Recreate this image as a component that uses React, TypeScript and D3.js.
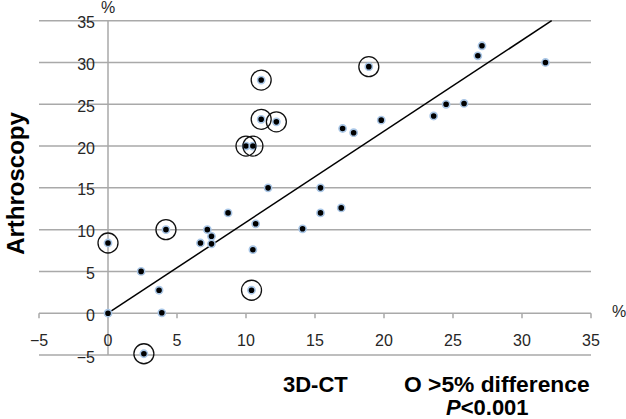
import React from "react";
import * as d3 from "d3";

// 3D-CT measurement (%) for each shoulder
const ctValues = [
  0, 0, 2.4, 3.7, 3.9, 2.6, 4.2, 6.7, 7.2, 7.5, 7.5, 8.7, 10.7, 10.5, 10.4, 11.6,
  10.0, 10.5, 11.1, 12.2, 11.1, 14.1, 15.4, 15.4, 16.9, 17.0, 17.8, 18.9, 19.8,
  23.6, 24.5, 25.8, 26.8, 27.1, 31.7,
];
// Arthroscopy measurement (%)
const arthroValues = [
  0, 8.4, 5.0, 2.75, 0.05, -4.85, 10.0, 8.4, 10.0, 9.2, 8.3, 12.0, 10.7, 7.6, 2.75, 15.0,
  20.0, 20.0, 23.2, 22.9, 27.9, 10.1, 12.0, 15.0, 12.6, 22.1, 21.6, 29.5, 23.1,
  23.6, 25.0, 25.1, 30.8, 32.0, 30.0,
];
// > 5% difference between methods (circled)
const over5 = [
  false, true, false, false, false, true, true, false, false, false, false, false, false, false, true, false,
  true, true, true, true, true, false, false, false, false, false, false, true, false,
  false, false, false, false, false, false,
];
const tickValues = [-5, 0, 5, 10, 15, 20, 25, 30, 35];
const tickLabels = ["\u22125", "0", "5", "10", "15", "20", "25", "30", "35"];
const fitX = [0, 32.15];
const fitY = [0, 35];

const FONT = "'Liberation Sans', Arial, Helvetica, sans-serif";

export default function App() {
  const x = d3.scaleLinear().domain([-5, 35]).range([39, 591]);
  const y = d3.scaleLinear().domain([-5, 35]).range([355, 20.7]);
  const line = d3
    .line<number>()
    .x((_, i) => x(fitX[i]))
    .y((_, i) => y(fitY[i]));
  const gridColor = "#a9a9a9";
  const textColor = "#262626";

  return (
    <svg
      width={626}
      height={419}
      viewBox="0 0 626 419"
      style={{ position: "absolute", left: 0, top: 0, background: "#fff" }}
      fontFamily={FONT}
    >
      <rect x={0} y={0} width={626} height={419} fill="#fff" />
      {/* horizontal gridlines */}
      {tickValues.map((t) => (
        <line
          key={"g" + t}
          x1={x(-5)}
          x2={x(35)}
          y1={y(t)}
          y2={y(t)}
          stroke={gridColor}
          strokeWidth={1.5}
        />
      ))}
      {/* y axis */}
      <line x1={x(0)} x2={x(0)} y1={y(35)} y2={y(-5)} stroke={gridColor} strokeWidth={1.5} />
      {/* x ticks */}
      {tickValues.map((t) => (
        <line
          key={"t" + t}
          x1={x(t)}
          x2={x(t)}
          y1={y(0)}
          y2={y(0) + 5}
          stroke={gridColor}
          strokeWidth={1.5}
        />
      ))}
      {/* y tick labels */}
      {tickValues.map((t, i) => (
        <text
          key={"yl" + t}
          x={95}
          y={y(t) + 2}
          dominantBaseline="central"
          textAnchor="end"
          fontSize={16}
          fill={textColor}
        >
          {tickLabels[i]}
        </text>
      ))}
      {/* x tick labels */}
      {tickValues.map((t, i) => (
        <text
          key={"xl" + t}
          x={x(t)}
          y={345.5}
          textAnchor="middle"
          fontSize={16}
          fill={textColor}
        >
          {tickLabels[i]}
        </text>
      ))}
      <text x={108} y={13} textAnchor="middle" fontSize={16} fill={textColor}>
        %
      </text>
      <text x={619} y={317} textAnchor="middle" fontSize={16} fill={textColor}>
        %
      </text>
      {/* regression line */}
      <path d={line(fitX) || ""} fill="none" stroke="#000" strokeWidth={1.5} />
      {/* points */}
      {ctValues.map((v, i) => (
        <circle
          key={"p" + i}
          cx={x(v)}
          cy={y(arthroValues[i])}
          r={3.6}
          fill="#000"
          stroke="#a9c6e6"
          strokeWidth={1.6}
        />
      ))}
      {/* circled (>5% difference) */}
      {ctValues.map((v, i) =>
        over5[i] ? (
          <circle
            key={"c" + i}
            cx={x(v)}
            cy={y(arthroValues[i])}
            r={10}
            fill="none"
            stroke="#111"
            strokeWidth={1.3}
          />
        ) : null
      )}
      {/* axis titles */}
      <text
        transform={`translate(24, 183.5) rotate(-90)`}
        textAnchor="middle"
        fontSize={24}
        fontWeight="bold"
        fill="#000"
      >
        Arthroscopy
      </text>
      <text x={283} y={392} fontSize={22} fontWeight="bold" fill="#000">
        3D-CT
      </text>
      <text x={404} y={392} fontSize={22.8} fontWeight="bold" fill="#000">
        O &gt;5% difference
      </text>
      <text x={446} y={415} fontSize={22} fontWeight="bold" fill="#000">
        <tspan fontStyle="italic">P</tspan>
        {"<0.001"}
      </text>
    </svg>
  );
}
